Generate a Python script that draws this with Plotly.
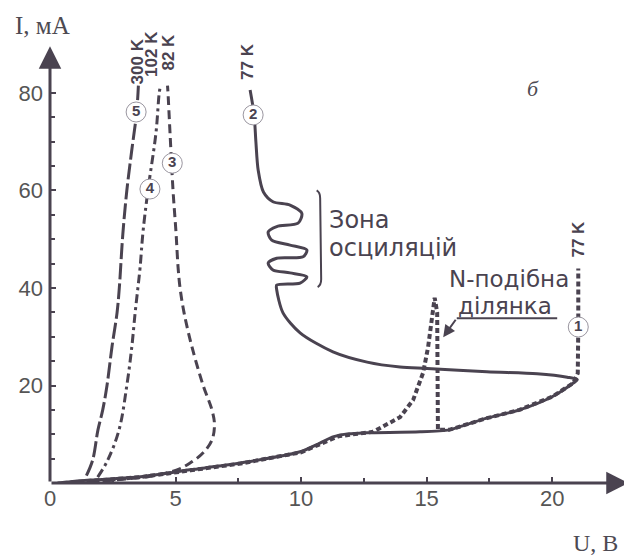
import plotly.graph_objects as go

LINE = "#4a4350"
TXT = "#4d4a52"
BG = "#ffffff"

# ---- data (U in V, I in mA) ----
# curve 5, 300 K
u5 = [1.45, 1.7, 1.91, 2.1, 2.27, 2.47, 2.67, 2.76, 2.9, 3.06, 3.25, 3.45, 3.52]
i5 = [1.5, 4.7, 10.9, 15.0, 20.0, 28.0, 34.9, 40.0, 51.0, 60.0, 68.0, 76.0, 81.5]
# curve 4, 102 K
u4 = [1.9, 2.3, 2.75, 3.06, 3.26, 3.39, 3.5, 3.59, 3.7, 3.9, 4.22, 4.35, 4.4]
i4 = [1.2, 4.7, 10.9, 20.0, 28.0, 34.9, 40.0, 44.3, 51.3, 60.0, 71.8, 80.0, 81.5]
# curve 3, 82 K
u3 = [1.0, 2.5, 4.0, 5.06, 5.58, 6.1, 6.45, 6.55, 6.45, 6.1, 5.65, 5.34, 5.18, 5.1, 5.02, 4.9, 4.78, 4.7, 4.68]
i3 = [0.0, 0.6, 1.4, 2.7, 4.1, 6.2, 8.8, 12.0, 15.0, 20.0, 28.0, 34.9, 40.0, 44.3, 51.3, 60.0, 71.8, 80.0, 81.5]
# curve 2, 77 K (solid, with oscillation zone)
u2 = [0.3, 1.6, 3.6, 5.58, 7.57, 9.96, 10.75, 11.3, 11.9, 12.6, 14.74, 15.9, 16.3, 17.4, 18.7, 20.0, 20.84, 21.0,
      20.6, 19.4, 17.4, 15.02, 13.94, 12.63, 11.27, 9.96, 9.28, 9.03, 9.03, 9.96, 10.23, 9.56, 8.88, 8.69,
      9.03, 10.08, 10.23, 9.56, 8.83, 8.69, 9.03, 9.88, 10.03, 9.56, 8.88, 8.5, 8.29, 8.2, 8.13, 7.97]
i2 = [0.0, 0.6, 1.3, 2.7, 4.1, 6.4, 8.2, 9.5, 10.1, 10.3, 10.5, 10.9, 11.5, 13.3, 15.0, 17.7, 20.5, 21.2,
      21.7, 22.4, 22.8, 23.5, 23.8, 24.8, 26.9, 30.8, 34.9, 39.6, 40.6, 41.0, 42.3, 43.1, 43.7, 45.1,
      46.1, 46.4, 47.8, 48.8, 49.8, 51.5, 52.6, 53.3, 55.3, 57.0, 57.7, 59.7, 64.2, 70.0, 75.5, 80.6]
# curve 1, 77 K (dashed, N-shaped section)
u1 = [0.5, 3.6, 5.6, 7.6, 10.0, 10.8, 11.5, 12.87, 13.94, 14.46, 14.86, 15.06, 15.22, 15.32, 15.42, 15.44,
      15.45, 15.9, 16.3, 17.4, 18.7, 20.0, 20.84, 21.02, 21.04, 21.04]
i1 = [0.0, 1.2, 2.6, 4.0, 6.3, 8.0, 9.6, 10.5, 13.5, 17.0, 22.6, 27.9, 33.4, 38.0, 35.0, 25.0,
      10.9, 10.9, 11.5, 13.3, 15.0, 17.7, 20.5, 22.5, 32.0, 44.0]

# curve number badges
badge_u = [3.43, 3.98, 4.87, 8.09, 21.04]
badge_i = [76.1, 60.3, 65.6, 75.5, 32.0]
badge_txt = ["5", "4", "3", "2", "1"]

# temperature labels
temp_txt = ["300 K", "102 K", "82 K", "77 K", "77 K"]
temp_u = [3.49, 4.06, 4.74, 7.89, 21.04]
temp_i = [86.4, 88.0, 88.3, 86.4, 50.0]

x_ticks = [0, 5, 10, 15, 20]
x_minor = [2.5, 7.5, 12.5, 17.5]
y_ticks = [20, 40, 60, 80]
y_minor = [5, 10, 15, 25, 30, 35, 45, 50, 55, 65, 70, 75]

fig = go.Figure()

fig.add_trace(go.Scatter(x=u1, y=i1, mode="lines",
                         line=dict(color=LINE, width=4, dash="5px,3px")))
fig.add_trace(go.Scatter(x=u5, y=i5, mode="lines",
                         line=dict(color=LINE, width=3, dash="16px,4px", shape="spline", smoothing=1)))
fig.add_trace(go.Scatter(x=u4, y=i4, mode="lines",
                         line=dict(color=LINE, width=3, dash="9px,4px,3px,4px", shape="spline", smoothing=1)))
fig.add_trace(go.Scatter(x=u3, y=i3, mode="lines",
                         line=dict(color=LINE, width=3, dash="9px,5px", shape="spline", smoothing=1)))
fig.add_trace(go.Scatter(x=u2, y=i2, mode="lines",
                         line=dict(color=LINE, width=3, shape="spline", smoothing=0.8)))

fig.add_trace(go.Scatter(x=badge_u, y=badge_i, mode="markers+text", text=badge_txt,
                         textposition="middle center",
                         textfont=dict(family="Liberation Sans", size=15, color=LINE, weight="bold"),
                         marker=dict(symbol="circle", size=20, color=BG,
                                     line=dict(color="#9a96a0", width=1))))

for t, u, i in zip(temp_txt, temp_u, temp_i):
    fig.add_annotation(x=u, y=i, text=t, showarrow=False, textangle=-90,
                       font=dict(family="Liberation Sans", size=17, color=LINE, weight="bold"))

# axes with arrows
fig.add_annotation(x=0, y=89.6, ax=0, ay=0, xref="x", yref="y", axref="x", ayref="y", text="",
                   showarrow=True, arrowhead=2, arrowsize=1.5, arrowwidth=3, arrowcolor=LINE)
fig.add_annotation(x=23.05, y=0, ax=0, ay=0, xref="x", yref="y", axref="x", ayref="y", text="",
                   showarrow=True, arrowhead=2, arrowsize=1.5, arrowwidth=3, arrowcolor=LINE)

# axis titles and panel letter
fig.add_annotation(xref="paper", yref="paper", x=(42 - 50) / 580, y=(483 - 25) / 443,
                   xanchor="center", yanchor="middle", text="I, мА", showarrow=False,
                   font=dict(family="Liberation Serif", size=25, color=TXT))
fig.add_annotation(xref="paper", yref="paper", x=(595 - 50) / 580, y=(483 - 543) / 443,
                   xanchor="center", yanchor="middle", text="U, В", showarrow=False,
                   font=dict(family="Liberation Serif", size=24, color=TXT))
fig.add_annotation(xref="paper", yref="paper", x=(533 - 50) / 580, y=(483 - 88) / 443,
                   xanchor="center", yanchor="middle", text="<i>б</i>", showarrow=False,
                   font=dict(family="Liberation Serif", size=22, color=TXT))

# oscillation zone
fig.add_shape(type="path", xref="x", yref="y",
              path="M 10.62,60.0 Q 10.76,59.6 10.76,58.4 L 10.8,41.8 Q 10.8,40.6 10.66,40.2",
              line=dict(color=LINE, width=2))
fig.add_annotation(x=11.04, y=54.0, text="Зона", showarrow=False, xanchor="left",
                   font=dict(family="DejaVu Sans", size=24, color=LINE))
fig.add_annotation(x=11.04, y=48.2, text="осциляцій", showarrow=False, xanchor="left",
                   font=dict(family="DejaVu Sans", size=24, color=LINE))

# N-shaped section
fig.add_annotation(x=18.29, y=41.8, text="N-подібна", showarrow=False,
                   font=dict(family="DejaVu Sans", size=23, color=LINE))
fig.add_annotation(x=18.13, y=36.3, text="ділянка", showarrow=False,
                   font=dict(family="DejaVu Sans", size=23, color=LINE))
fig.add_shape(type="line", xref="x", yref="y", x0=16.2, y0=33.8, x1=20.2, y1=33.8,
              line=dict(color=LINE, width=2))
fig.add_annotation(x=15.66, y=29.9, ax=16.2, ay=33.8, xref="x", yref="y", axref="x", ayref="y",
                   text="", showarrow=True, arrowhead=2, arrowsize=1.2, arrowwidth=2, arrowcolor=LINE)

# page has an 8px body margin: figure is 624x552, plot area lands at x 50-630, y 40-483
fig.update_layout(width=624, height=552, margin=dict(l=42, r=2, t=32, b=77, autoexpand=False),
                  paper_bgcolor=BG, plot_bgcolor=BG, showlegend=False,
                  font=dict(family="Liberation Sans", color=TXT))
fig.update_xaxes(range=[0, 23.1], tickvals=x_ticks, ticks="inside", ticklen=6, tickwidth=2,
                 tickcolor=LINE, showgrid=False, zeroline=False, showline=False, automargin=False,
                 tickfont=dict(size=22, color="#555"),
                 minor=dict(tickvals=x_minor, ticks="inside", ticklen=5, tickwidth=2,
                            tickcolor=LINE, showgrid=False))
fig.update_yaxes(range=[0, 90.87], tickvals=y_ticks, ticks="inside", ticklen=6, tickwidth=2,
                 tickcolor=LINE, showgrid=False, zeroline=False, showline=False, automargin=False,
                 tickfont=dict(size=22, color="#555"), ticklabelstandoff=6,
                 minor=dict(tickvals=y_minor, ticks="inside", ticklen=5, tickwidth=2,
                            tickcolor=LINE, showgrid=False))

fig.write_html("out.html")
